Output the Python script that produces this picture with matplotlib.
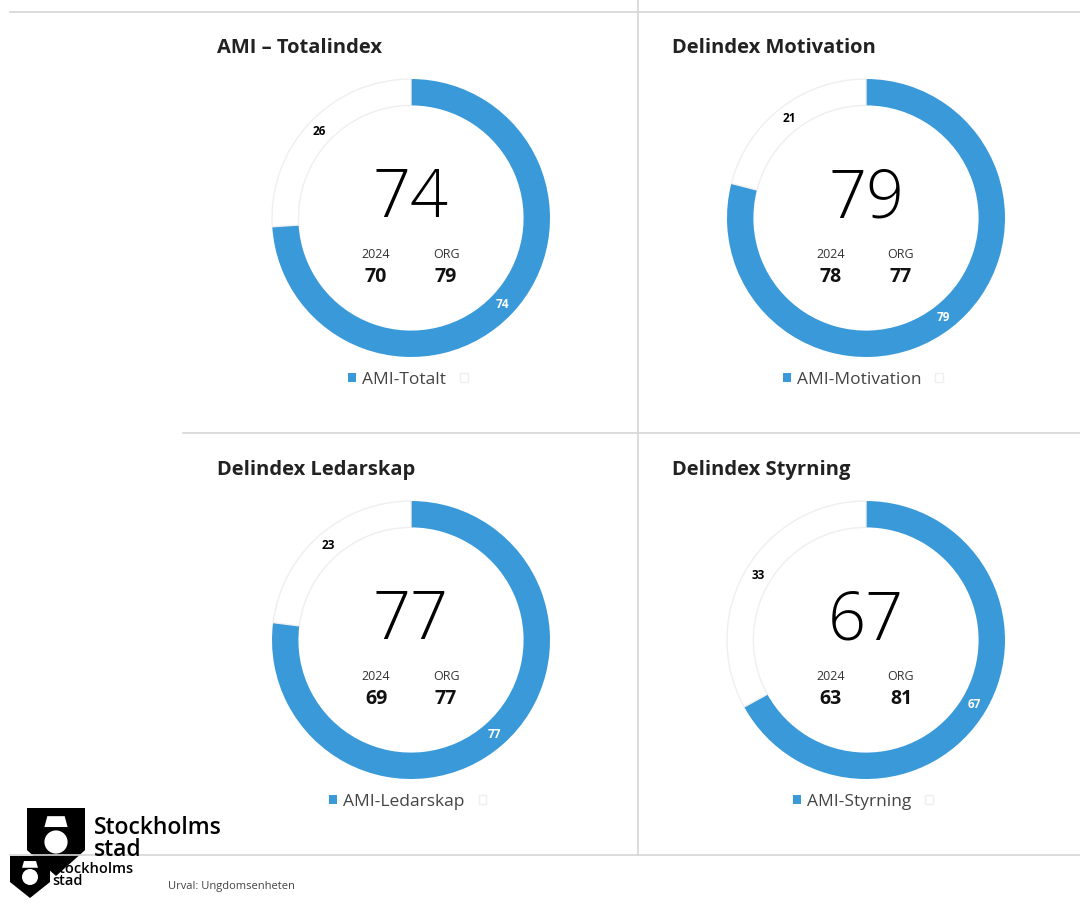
import matplotlib
matplotlib.use('Agg')
import matplotlib.pyplot as plt
import numpy as np
from matplotlib.patches import Polygon, Circle

plt.rcParams['font.family'] = ['Open Sans', 'DejaVu Sans']

# data
titles = ['AMI – Totalindex', 'Delindex Motivation', 'Delindex Ledarskap', 'Delindex Styrning']
series_names = ['AMI-Totalt', 'AMI-Motivation', 'AMI-Ledarskap', 'AMI-Styrning']
scores = [74, 79, 77, 67]
rest = [26, 21, 23, 33]
prev_2024 = [70, 78, 69, 63]
org = [79, 77, 77, 81]

W, H = 1080, 914
BLUE = '#3a9ad9'

fig = plt.figure(figsize=(W / 100, H / 100), dpi=100)

# background axes in pixel coordinates for separators / logo
bg = fig.add_axes([0, 0, 1, 1])
bg.set_xlim(0, W)
bg.set_ylim(H, 0)
bg.axis('off')
bg.plot([10, W], [12, 12], color='#d6d6d6', lw=1.2)
bg.plot([183, W], [433, 433], color='#d6d6d6', lw=1.2)
bg.plot([10, W], [855, 855], color='#d6d6d6', lw=1.2)
bg.plot([638, 638], [0, 855], color='#d6d6d6', lw=1.2)

def px(x, y):
    return x / W, 1 - y / H

centers = [(411, 218), (866, 218), (411, 640), (866, 640)]
title_pos = [(217, 48), (672, 48), (217, 470), (672, 470)]
R = 139

for i in range(4):
    cx, cy = centers[i]
    ax = fig.add_axes([(cx - R) / W, 1 - (cy + R) / H, 2 * R / W, 2 * R / H])
    wedges, _ = ax.pie([scores[i], rest[i]], colors=[BLUE, 'white'], startangle=90,
                       counterclock=False, radius=1,
                       wedgeprops=dict(width=0.19, linewidth=0))
    wedges[1].set_edgecolor('#efefef')
    wedges[1].set_linewidth(1)
    ax.set_xlim(-1, 1)
    ax.set_ylim(-1, 1)
    ax.set_aspect('equal')

    # segment labels at mid angle of each wedge
    for w, val, col in zip(wedges, [scores[i], rest[i]], ['white', 'black']):
        ang = np.deg2rad((w.theta1 + w.theta2) / 2)
        ax.text(0.905 * np.cos(ang), 0.905 * np.sin(ang), str(val), ha='center', va='center',
                fontsize=8.5, fontweight='bold', color=col)

    leg = ax.legend(wedges, [series_names[i], ''], ncol=2, loc='center',
                    bbox_to_anchor=(0.5, -0.082), frameon=False, fontsize=12.5,
                    handlelength=0.45, handleheight=0.45, handletextpad=0.35, columnspacing=0.8)
    for t in leg.get_texts():
        t.set_color('#444444')

    fig.text(*px(title_pos[i][0], title_pos[i][1]), titles[i], fontsize=14.5, fontweight='bold',
             ha='left', va='center', color='#222222')
    fig.text(*px(cx, cy - 18), str(scores[i]), fontsize=48, fontweight='light',
             ha='center', va='center', color='black')
    fig.text(*px(cx - 35, cy + 36), '2024', fontsize=9, ha='center', va='center', color='#333333')
    fig.text(*px(cx + 35, cy + 36), 'ORG', fontsize=9, ha='center', va='center', color='#333333')
    fig.text(*px(cx - 35, cy + 59), str(prev_2024[i]), fontsize=14, fontweight='bold',
             ha='center', va='center', color='#111111')
    fig.text(*px(cx + 35, cy + 59), str(org[i]), fontsize=14, fontweight='bold',
             ha='center', va='center', color='#111111')

# logo (simplified shield + wordmark), drawn twice like in the screenshot
def draw_logo(x0, y0, w, h, tx, word, size, gap):
    bg.add_patch(Polygon([(x0, y0), (x0 + w, y0), (x0 + w, y0 + h * 0.62),
                          (x0 + w / 2, y0 + h), (x0, y0 + h * 0.62)],
                         closed=True, facecolor='black', edgecolor='none'))
    bg.add_patch(Circle((x0 + w / 2, y0 + h * 0.5), w * 0.2, facecolor='white', edgecolor='none'))
    bg.add_patch(Polygon([(x0 + w * 0.3, y0 + h * 0.28), (x0 + w * 0.7, y0 + h * 0.28),
                          (x0 + w * 0.65, y0 + h * 0.12), (x0 + w * 0.35, y0 + h * 0.12)],
                         closed=True, facecolor='white', edgecolor='none'))
    bg.text(tx, y0 + h * 0.3, word, fontsize=size, fontweight='semibold',
            ha='left', va='center', color='black')
    bg.text(tx, y0 + h * 0.3 + gap, 'stad', fontsize=size, fontweight='semibold',
            ha='left', va='center', color='black')

draw_logo(27, 808, 58, 68, 94, 'Stockholms', 16.5, 22)
draw_logo(10, 856, 40, 42, 52, 'stockholms', 10.5, 12)

bg.text(168, 886, 'Urval: Ungdomsenheten', fontsize=8, ha='left', va='center', color='#444444')

fig.savefig('out.png', dpi=100)
